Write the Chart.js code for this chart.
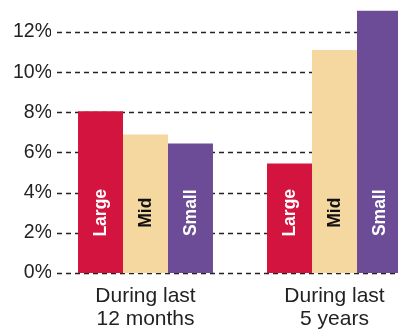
<!DOCTYPE html>
<html>
<head>
<meta charset="utf-8">
<script src="https://cdn.jsdelivr.net/npm/chart.js@4"></script>
<style>
  html, body { margin: 0; padding: 0; background: #fff; overflow: hidden; }
  #wrap { width: 429px; height: 331px; }
</style>
</head>
<body>
<div id="wrap"><canvas id="myChart" width="429" height="331"></canvas></div>
<script>
const periods = [['During last', '12 months'], ['During last', '5 years']];
const sizeNames = ['Large', 'Mid', 'Small'];
const largeVals = [8.05, 5.45];
const midVals = [6.9, 11.1];
const smallVals = [6.45, 13.1];
const yTicks = [0, 2, 4, 6, 8, 10, 12];

const barColors = ['#D2143F', '#F5D7A0', '#6C4C97'];
const labelColors = ['#ffffff', '#111111', '#ffffff'];

// dashed grid, starts a bit right of the tick labels
const dashGrid = {
    id: 'dashGrid',
    beforeDatasetsDraw(chart) {
        const { ctx, chartArea, scales } = chart;
        const y = scales.y;
        ctx.save();
        ctx.strokeStyle = '#222';
        ctx.lineWidth = 1.3;
        ctx.setLineDash([5, 4]);
        yTicks.forEach(v => {
            const py = Math.round(y.getPixelForValue(v)) + 0.5;
            ctx.beginPath();
            ctx.moveTo(chartArea.left + 6, py);
            ctx.lineTo(chartArea.right, py);
            ctx.stroke();
        });
        ctx.restore();
    }
};

// rotated names inside the bars
const barNames = {
    id: 'barNames',
    afterDatasetsDraw(chart) {
        const { ctx, scales } = chart;
        const cy = scales.y.getPixelForValue(3);
        ctx.save();
        ctx.font = 'bold 17.5px "Liberation Sans", Arial, sans-serif';
        ctx.textAlign = 'center';
        ctx.textBaseline = 'middle';
        chart.data.datasets.forEach((ds, i) => {
            chart.getDatasetMeta(i).data.forEach(bar => {
                ctx.save();
                ctx.translate(bar.x, cy);
                ctx.rotate(-Math.PI / 2);
                ctx.fillStyle = labelColors[i];
                ctx.fillText(ds.label, 0, 1);
                ctx.restore();
            });
        });
        ctx.restore();
    }
};

const data = {
    labels: periods,
    datasets: [
        { label: sizeNames[0], data: largeVals, backgroundColor: barColors[0] },
        { label: sizeNames[1], data: midVals, backgroundColor: barColors[1] },
        { label: sizeNames[2], data: smallVals, backgroundColor: barColors[2] }
    ]
};

const config = {
    type: 'bar',
    data: data,
    plugins: [dashGrid, barNames],
    options: {
        responsive: false,
        animation: false,
        layout: { padding: { top: 3, right: 0, left: 0, bottom: 0 } },
        plugins: { legend: { display: false }, tooltip: { enabled: false } },
        datasets: { bar: { categoryPercentage: 0.714, barPercentage: 1.0 } },
        scales: {
            x: {
                grid: { display: false, drawTicks: false },
                border: { display: false },
                ticks: {
                    color: '#222',
                    padding: 12,
                    maxRotation: 0,
                    autoSkip: false,
                    font: { family: '"Liberation Sans", Arial, sans-serif', size: 21, lineHeight: 1.1 }
                },
                afterFit: s => { s.height = 58; }
            },
            y: {
                min: 0,
                max: 13.06,
                grid: { display: false, drawTicks: false },
                border: { display: false },
                ticks: {
                    stepSize: 2,
                    includeBounds: false,
                    color: '#222',
                    padding: -1,
                    font: { family: '"Liberation Sans", Arial, sans-serif', size: 19.5 },
                    callback: v => v + '%'
                },
                afterFit: s => { s.width = 51; }
            }
        }
    }
};

const chart = new Chart(document.getElementById('myChart'), config);
</script>
</body>
</html>
